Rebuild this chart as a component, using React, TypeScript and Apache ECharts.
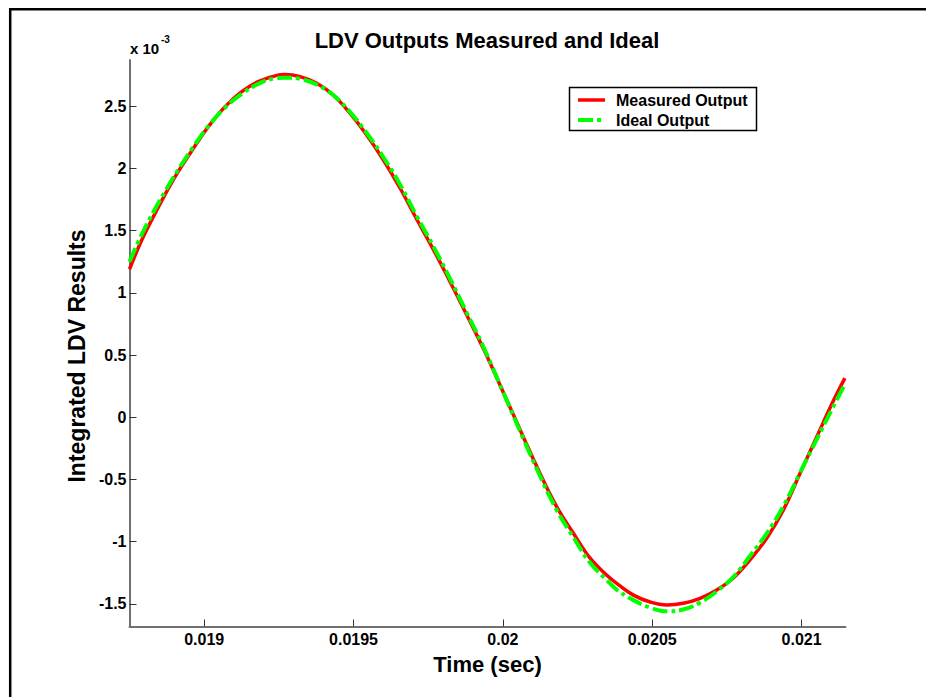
import React, { useEffect, useRef } from "react";
import * as echarts from "echarts";

// Time (sec) sample points
const timeSec = [
  0.01875, 0.018791, 0.01883, 0.018869, 0.018913, 0.018964, 0.019014, 0.01907,
  0.019126, 0.019181, 0.019237, 0.019271, 0.019321, 0.019377, 0.019432, 0.019488,
  0.019544, 0.0196, 0.019656, 0.019712, 0.019767, 0.019823, 0.019879, 0.019935,
  0.020013, 0.020068, 0.020124, 0.02018, 0.020236, 0.020292, 0.020348, 0.020381,
  0.020437, 0.020493, 0.020549, 0.020604, 0.02066, 0.020716, 0.020771, 0.020827,
  0.020883, 0.020939, 0.020995, 0.021051, 0.021106, 0.021145,
];

// Integrated LDV results, in units of 1e-3
const measuredOutput = [
  1.19, 1.425, 1.613, 1.79, 1.974, 2.162, 2.336, 2.497,
  2.617, 2.698, 2.744, 2.755, 2.738, 2.685, 2.591, 2.444,
  2.269, 2.068, 1.841, 1.59, 1.35, 1.09, 0.822, 0.55,
  0.139, -0.156, -0.45, -0.719, -0.932, -1.133, -1.27, -1.335,
  -1.43, -1.485, -1.509, -1.495, -1.455, -1.388, -1.294, -1.147,
  -0.973, -0.745, -0.45, -0.156, 0.13, 0.315,
];

const idealOutput = [
  1.25, 1.47, 1.65, 1.815, 1.99, 2.175, 2.34, 2.49,
  2.6, 2.68, 2.725, 2.73, 2.72, 2.675, 2.59, 2.455,
  2.285, 2.09, 1.87, 1.615, 1.375, 1.115, 0.84, 0.565,
  0.135, -0.17, -0.47, -0.745, -0.965, -1.17, -1.31, -1.385,
  -1.47, -1.53, -1.56, -1.545, -1.49, -1.4, -1.285, -1.115,
  -0.935, -0.715, -0.445, -0.175, 0.085, 0.265,
];

const xTickValues = [0.019, 0.0195, 0.02, 0.0205, 0.021];
const xTickLabels = ["0.019", "0.0195", "0.02", "0.0205", "0.021"];
const yTickValues = [-1.5, -1, -0.5, 0, 0.5, 1, 1.5, 2, 2.5];
const yTickLabels = ["-1.5", "-1", "-0.5", "0", "0.5", "1", "1.5", "2", "2.5"];

const seriesNames = ["Measured Output", "Ideal Output"];
const titleText = "LDV Outputs Measured and Ideal";
const xAxisTitle = "Time (sec)";
const yAxisTitle = "Integrated LDV Results";
const yScaleText = "x 10";
const yScaleExp = "-3";

const FONT = '"Liberation Sans", Arial, Helvetica, sans-serif';

export default function App() {
  const ref = useRef<HTMLDivElement>(null);

  useEffect(() => {
    if (!ref.current) return;
    const chart = echarts.init(ref.current, null, { renderer: "svg" });

    const toPairs = (ys: number[]) => timeSec.map((t, i) => [t, ys[i]]);
    const xLabelMap: Record<string, string> = {};
    xTickValues.forEach((v, i) => (xLabelMap[String(v)] = xTickLabels[i]));
    const yLabelMap: Record<string, string> = {};
    yTickValues.forEach((v, i) => (yLabelMap[String(v)] = yTickLabels[i]));

    const dashDot = [15, 4, 4, 4];

    chart.setOption({
      animation: false,
      backgroundColor: "#ffffff",
      title: {
        text: titleText,
        left: 487,
        top: 29,
        padding: 0,
        textAlign: "center",
        textStyle: { fontFamily: FONT, fontWeight: "bold", fontSize: 22, color: "#000" },
      },
      grid: {
        left: 129.5,
        right: 80.5,
        top: 60,
        bottom: 70.5,
        containLabel: false,
        outerBoundsMode: "none",
      },
      xAxis: {
        type: "value",
        min: 0.01875,
        max: 0.021147,
        name: xAxisTitle,
        nameLocation: "middle",
        nameGap: 27,
        nameTextStyle: { fontFamily: FONT, fontWeight: "bold", fontSize: 22, color: "#000" },
        axisLine: { show: true, onZero: false, lineStyle: { color: "#707070", width: 2 } },
        axisTick: {
          show: true,
          inside: true,
          length: 7,
          customValues: xTickValues,
          lineStyle: { color: "#333", width: 1 },
        },
        axisLabel: {
          customValues: xTickValues,
          formatter: (v: number) => xLabelMap[String(v)] ?? String(v),
          fontFamily: FONT,
          fontWeight: "bold",
          fontSize: 16,
          color: "#000",
          margin: 5,
        },
        splitLine: { show: false },
      },
      yAxis: {
        type: "value",
        min: -1.682,
        max: 2.872,
        axisLine: { show: true, onZero: false, lineStyle: { color: "#707070", width: 2 } },
        axisTick: {
          show: true,
          inside: true,
          length: 7,
          customValues: yTickValues,
          lineStyle: { color: "#333", width: 1 },
        },
        axisLabel: {
          customValues: yTickValues,
          formatter: (v: number) => yLabelMap[String(v)] ?? String(v),
          fontFamily: FONT,
          fontWeight: "bold",
          fontSize: 16,
          color: "#000",
          margin: 3,
        },
        splitLine: { show: false },
      },
      series: [
        {
          name: seriesNames[0],
          type: "line",
          data: toPairs(measuredOutput),
          symbol: "none",
          smooth: 0.4,
          lineStyle: { color: "#ff0000", width: 3.5 },
          z: 2,
        },
        {
          name: seriesNames[1],
          type: "line",
          data: toPairs(idealOutput),
          symbol: "none",
          smooth: 0.4,
          lineStyle: { color: "#00ff00", width: 4, type: dashDot, cap: "butt" },
          z: 3,
        },
      ],
      graphic: [
        // figure border (top and left edges)
        { type: "line", shape: { x1: 9, y1: 9.2, x2: 926, y2: 9.2 }, style: { stroke: "#000", lineWidth: 2.5 } },
        { type: "line", shape: { x1: 10.2, y1: 8, x2: 10.2, y2: 697 }, style: { stroke: "#000", lineWidth: 2.5 } },
        // y axis title
        {
          type: "text",
          x: 77,
          y: 356,
          rotation: Math.PI / 2,
          style: { text: yAxisTitle, fontFamily: FONT, fontWeight: "bold", fontSize: 23, fill: "#000", verticalAlign: "middle", align: "center" },
        },
        // exponent label
        {
          type: "text",
          x: 130,
          y: 48,
          style: { text: yScaleText, fontFamily: FONT, fontWeight: "bold", fontSize: 15, fill: "#000", verticalAlign: "middle", align: "left" },
        },
        {
          type: "text",
          x: 161,
          y: 39,
          style: { text: yScaleExp, fontFamily: FONT, fontWeight: "bold", fontSize: 10, fill: "#000", verticalAlign: "middle", align: "left" },
        },
        // legend
        {
          type: "rect",
          shape: { x: 569.5, y: 87.5, width: 187, height: 43 },
          style: { fill: "#fff", stroke: "#000", lineWidth: 1.5 },
          z: 10,
        },
        {
          type: "line",
          shape: { x1: 578, y1: 100, x2: 605, y2: 100 },
          style: { stroke: "#ff0000", lineWidth: 3.5 },
          z: 11,
        },
        {
          type: "line",
          shape: { x1: 578, y1: 120, x2: 605, y2: 120 },
          style: { stroke: "#00ff00", lineWidth: 4, lineDash: dashDot, lineCap: "butt" },
          z: 11,
        },
        {
          type: "text",
          x: 616,
          y: 100,
          style: { text: seriesNames[0], fontFamily: FONT, fontWeight: "bold", fontSize: 16, fill: "#000", verticalAlign: "middle", align: "left" },
          z: 11,
        },
        {
          type: "text",
          x: 616,
          y: 120,
          style: { text: seriesNames[1], fontFamily: FONT, fontWeight: "bold", fontSize: 16, fill: "#000", verticalAlign: "middle", align: "left" },
          z: 11,
        },
      ],
    });

    return () => chart.dispose();
  }, []);

  return (
    <div
      ref={ref}
      style={{ position: "fixed", left: 0, top: 0, width: 926, height: 697, background: "#fff" }}
    />
  );
}
